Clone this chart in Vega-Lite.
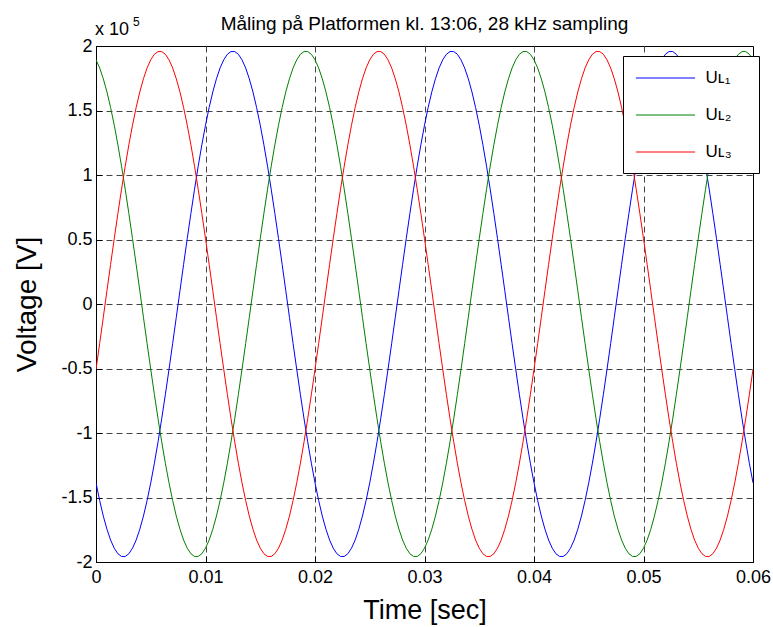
{
"$schema": "https://vega.github.io/schema/vega-lite/v6.json",
"width": 657, "height": 516,
"autosize": {"type": "none"},
"padding": {"left": 96, "top": 46, "right": 20, "bottom": 65},
"background": "white",
"config": {"font": "Liberation Sans", "view": {"stroke": "black", "strokeWidth": 1}},
"title": {"text": "Måling på Platformen kl. 13:06, 28 kHz sampling", "fontSize": 19, "fontWeight": "normal", "color": "black", "anchor": "middle", "frame": "group", "offset": -18},
"layer": [
{
"data": {"values": [
{"t":0,"L1":-1.386,"L2":1.893,"L3":-0.507},
{"t":0.000333,"L1":-1.523,"L2":1.830,"L3":-0.307},
{"t":0.000667,"L1":-1.644,"L2":1.746,"L3":-0.103},
{"t":0.001,"L1":-1.746,"L2":1.644,"L3":0.103},
{"t":0.001333,"L1":-1.830,"L2":1.523,"L3":0.307},
{"t":0.001667,"L1":-1.893,"L2":1.386,"L3":0.507},
{"t":0.002,"L1":-1.936,"L2":1.234,"L3":0.702},
{"t":0.002333,"L1":-1.957,"L2":1.068,"L3":0.890},
{"t":0.002667,"L1":-1.957,"L2":0.890,"L3":1.068},
{"t":0.003,"L1":-1.936,"L2":0.702,"L3":1.234},
{"t":0.003333,"L1":-1.893,"L2":0.507,"L3":1.386},
{"t":0.003667,"L1":-1.830,"L2":0.307,"L3":1.523},
{"t":0.004,"L1":-1.746,"L2":0.103,"L3":1.644},
{"t":0.004333,"L1":-1.644,"L2":-0.103,"L3":1.746},
{"t":0.004667,"L1":-1.523,"L2":-0.307,"L3":1.830},
{"t":0.005,"L1":-1.386,"L2":-0.507,"L3":1.893},
{"t":0.005333,"L1":-1.234,"L2":-0.702,"L3":1.936},
{"t":0.005667,"L1":-1.068,"L2":-0.890,"L3":1.957},
{"t":0.006,"L1":-0.890,"L2":-1.068,"L3":1.957},
{"t":0.006333,"L1":-0.702,"L2":-1.234,"L3":1.936},
{"t":0.006667,"L1":-0.507,"L2":-1.386,"L3":1.893},
{"t":0.007,"L1":-0.307,"L2":-1.523,"L3":1.830},
{"t":0.007333,"L1":-0.103,"L2":-1.644,"L3":1.746},
{"t":0.007667,"L1":0.103,"L2":-1.746,"L3":1.644},
{"t":0.008,"L1":0.307,"L2":-1.830,"L3":1.523},
{"t":0.008333,"L1":0.507,"L2":-1.893,"L3":1.386},
{"t":0.008667,"L1":0.702,"L2":-1.936,"L3":1.234},
{"t":0.009,"L1":0.890,"L2":-1.957,"L3":1.068},
{"t":0.009333,"L1":1.068,"L2":-1.957,"L3":0.890},
{"t":0.009667,"L1":1.234,"L2":-1.936,"L3":0.702},
{"t":0.01,"L1":1.386,"L2":-1.893,"L3":0.507},
{"t":0.010333,"L1":1.523,"L2":-1.830,"L3":0.307},
{"t":0.010667,"L1":1.644,"L2":-1.746,"L3":0.103},
{"t":0.011,"L1":1.746,"L2":-1.644,"L3":-0.103},
{"t":0.011333,"L1":1.830,"L2":-1.523,"L3":-0.307},
{"t":0.011667,"L1":1.893,"L2":-1.386,"L3":-0.507},
{"t":0.012,"L1":1.936,"L2":-1.234,"L3":-0.702},
{"t":0.012333,"L1":1.957,"L2":-1.068,"L3":-0.890},
{"t":0.012667,"L1":1.957,"L2":-0.890,"L3":-1.068},
{"t":0.013,"L1":1.936,"L2":-0.702,"L3":-1.234},
{"t":0.013333,"L1":1.893,"L2":-0.507,"L3":-1.386},
{"t":0.013667,"L1":1.830,"L2":-0.307,"L3":-1.523},
{"t":0.014,"L1":1.746,"L2":-0.103,"L3":-1.644},
{"t":0.014333,"L1":1.644,"L2":0.103,"L3":-1.746},
{"t":0.014667,"L1":1.523,"L2":0.307,"L3":-1.830},
{"t":0.015,"L1":1.386,"L2":0.507,"L3":-1.893},
{"t":0.015333,"L1":1.234,"L2":0.702,"L3":-1.936},
{"t":0.015667,"L1":1.068,"L2":0.890,"L3":-1.957},
{"t":0.016,"L1":0.890,"L2":1.068,"L3":-1.957},
{"t":0.016333,"L1":0.702,"L2":1.234,"L3":-1.936},
{"t":0.016667,"L1":0.507,"L2":1.386,"L3":-1.893},
{"t":0.017,"L1":0.307,"L2":1.523,"L3":-1.830},
{"t":0.017333,"L1":0.103,"L2":1.644,"L3":-1.746},
{"t":0.017667,"L1":-0.103,"L2":1.746,"L3":-1.644},
{"t":0.018,"L1":-0.307,"L2":1.830,"L3":-1.523},
{"t":0.018333,"L1":-0.507,"L2":1.893,"L3":-1.386},
{"t":0.018667,"L1":-0.702,"L2":1.936,"L3":-1.234},
{"t":0.019,"L1":-0.890,"L2":1.957,"L3":-1.068},
{"t":0.019333,"L1":-1.068,"L2":1.957,"L3":-0.890},
{"t":0.019667,"L1":-1.234,"L2":1.936,"L3":-0.702},
{"t":0.02,"L1":-1.386,"L2":1.893,"L3":-0.507},
{"t":0.020333,"L1":-1.523,"L2":1.830,"L3":-0.307},
{"t":0.020667,"L1":-1.644,"L2":1.746,"L3":-0.103},
{"t":0.021,"L1":-1.746,"L2":1.644,"L3":0.103},
{"t":0.021333,"L1":-1.830,"L2":1.523,"L3":0.307},
{"t":0.021667,"L1":-1.893,"L2":1.386,"L3":0.507},
{"t":0.022,"L1":-1.936,"L2":1.234,"L3":0.702},
{"t":0.022333,"L1":-1.957,"L2":1.068,"L3":0.890},
{"t":0.022667,"L1":-1.957,"L2":0.890,"L3":1.068},
{"t":0.023,"L1":-1.936,"L2":0.702,"L3":1.234},
{"t":0.023333,"L1":-1.893,"L2":0.507,"L3":1.386},
{"t":0.023667,"L1":-1.830,"L2":0.307,"L3":1.523},
{"t":0.024,"L1":-1.746,"L2":0.103,"L3":1.644},
{"t":0.024333,"L1":-1.644,"L2":-0.103,"L3":1.746},
{"t":0.024667,"L1":-1.523,"L2":-0.307,"L3":1.830},
{"t":0.025,"L1":-1.386,"L2":-0.507,"L3":1.893},
{"t":0.025333,"L1":-1.234,"L2":-0.702,"L3":1.936},
{"t":0.025667,"L1":-1.068,"L2":-0.890,"L3":1.957},
{"t":0.026,"L1":-0.890,"L2":-1.068,"L3":1.957},
{"t":0.026333,"L1":-0.702,"L2":-1.234,"L3":1.936},
{"t":0.026667,"L1":-0.507,"L2":-1.386,"L3":1.893},
{"t":0.027,"L1":-0.307,"L2":-1.523,"L3":1.830},
{"t":0.027333,"L1":-0.103,"L2":-1.644,"L3":1.746},
{"t":0.027667,"L1":0.103,"L2":-1.746,"L3":1.644},
{"t":0.028,"L1":0.307,"L2":-1.830,"L3":1.523},
{"t":0.028333,"L1":0.507,"L2":-1.893,"L3":1.386},
{"t":0.028667,"L1":0.702,"L2":-1.936,"L3":1.234},
{"t":0.029,"L1":0.890,"L2":-1.957,"L3":1.068},
{"t":0.029333,"L1":1.068,"L2":-1.957,"L3":0.890},
{"t":0.029667,"L1":1.234,"L2":-1.936,"L3":0.702},
{"t":0.03,"L1":1.386,"L2":-1.893,"L3":0.507},
{"t":0.030333,"L1":1.523,"L2":-1.830,"L3":0.307},
{"t":0.030667,"L1":1.644,"L2":-1.746,"L3":0.103},
{"t":0.031,"L1":1.746,"L2":-1.644,"L3":-0.103},
{"t":0.031333,"L1":1.830,"L2":-1.523,"L3":-0.307},
{"t":0.031667,"L1":1.893,"L2":-1.386,"L3":-0.507},
{"t":0.032,"L1":1.936,"L2":-1.234,"L3":-0.702},
{"t":0.032333,"L1":1.957,"L2":-1.068,"L3":-0.890},
{"t":0.032667,"L1":1.957,"L2":-0.890,"L3":-1.068},
{"t":0.033,"L1":1.936,"L2":-0.702,"L3":-1.234},
{"t":0.033333,"L1":1.893,"L2":-0.507,"L3":-1.386},
{"t":0.033667,"L1":1.830,"L2":-0.307,"L3":-1.523},
{"t":0.034,"L1":1.746,"L2":-0.103,"L3":-1.644},
{"t":0.034333,"L1":1.644,"L2":0.103,"L3":-1.746},
{"t":0.034667,"L1":1.523,"L2":0.307,"L3":-1.830},
{"t":0.035,"L1":1.386,"L2":0.507,"L3":-1.893},
{"t":0.035333,"L1":1.234,"L2":0.702,"L3":-1.936},
{"t":0.035667,"L1":1.068,"L2":0.890,"L3":-1.957},
{"t":0.036,"L1":0.890,"L2":1.068,"L3":-1.957},
{"t":0.036333,"L1":0.702,"L2":1.234,"L3":-1.936},
{"t":0.036667,"L1":0.507,"L2":1.386,"L3":-1.893},
{"t":0.037,"L1":0.307,"L2":1.523,"L3":-1.830},
{"t":0.037333,"L1":0.103,"L2":1.644,"L3":-1.746},
{"t":0.037667,"L1":-0.103,"L2":1.746,"L3":-1.644},
{"t":0.038,"L1":-0.307,"L2":1.830,"L3":-1.523},
{"t":0.038333,"L1":-0.507,"L2":1.893,"L3":-1.386},
{"t":0.038667,"L1":-0.702,"L2":1.936,"L3":-1.234},
{"t":0.039,"L1":-0.890,"L2":1.957,"L3":-1.068},
{"t":0.039333,"L1":-1.068,"L2":1.957,"L3":-0.890},
{"t":0.039667,"L1":-1.234,"L2":1.936,"L3":-0.702},
{"t":0.04,"L1":-1.386,"L2":1.893,"L3":-0.507},
{"t":0.040333,"L1":-1.523,"L2":1.830,"L3":-0.307},
{"t":0.040667,"L1":-1.644,"L2":1.746,"L3":-0.103},
{"t":0.041,"L1":-1.746,"L2":1.644,"L3":0.103},
{"t":0.041333,"L1":-1.830,"L2":1.523,"L3":0.307},
{"t":0.041667,"L1":-1.893,"L2":1.386,"L3":0.507},
{"t":0.042,"L1":-1.936,"L2":1.234,"L3":0.702},
{"t":0.042333,"L1":-1.957,"L2":1.068,"L3":0.890},
{"t":0.042667,"L1":-1.957,"L2":0.890,"L3":1.068},
{"t":0.043,"L1":-1.936,"L2":0.702,"L3":1.234},
{"t":0.043333,"L1":-1.893,"L2":0.507,"L3":1.386},
{"t":0.043667,"L1":-1.830,"L2":0.307,"L3":1.523},
{"t":0.044,"L1":-1.746,"L2":0.103,"L3":1.644},
{"t":0.044333,"L1":-1.644,"L2":-0.103,"L3":1.746},
{"t":0.044667,"L1":-1.523,"L2":-0.307,"L3":1.830},
{"t":0.045,"L1":-1.386,"L2":-0.507,"L3":1.893},
{"t":0.045333,"L1":-1.234,"L2":-0.702,"L3":1.936},
{"t":0.045667,"L1":-1.068,"L2":-0.890,"L3":1.957},
{"t":0.046,"L1":-0.890,"L2":-1.068,"L3":1.957},
{"t":0.046333,"L1":-0.702,"L2":-1.234,"L3":1.936},
{"t":0.046667,"L1":-0.507,"L2":-1.386,"L3":1.893},
{"t":0.047,"L1":-0.307,"L2":-1.523,"L3":1.830},
{"t":0.047333,"L1":-0.103,"L2":-1.644,"L3":1.746},
{"t":0.047667,"L1":0.103,"L2":-1.746,"L3":1.644},
{"t":0.048,"L1":0.307,"L2":-1.830,"L3":1.523},
{"t":0.048333,"L1":0.507,"L2":-1.893,"L3":1.386},
{"t":0.048667,"L1":0.702,"L2":-1.936,"L3":1.234},
{"t":0.049,"L1":0.890,"L2":-1.957,"L3":1.068},
{"t":0.049333,"L1":1.068,"L2":-1.957,"L3":0.890},
{"t":0.049667,"L1":1.234,"L2":-1.936,"L3":0.702},
{"t":0.05,"L1":1.386,"L2":-1.893,"L3":0.507},
{"t":0.050333,"L1":1.523,"L2":-1.830,"L3":0.307},
{"t":0.050667,"L1":1.644,"L2":-1.746,"L3":0.103},
{"t":0.051,"L1":1.746,"L2":-1.644,"L3":-0.103},
{"t":0.051333,"L1":1.830,"L2":-1.523,"L3":-0.307},
{"t":0.051667,"L1":1.893,"L2":-1.386,"L3":-0.507},
{"t":0.052,"L1":1.936,"L2":-1.234,"L3":-0.702},
{"t":0.052333,"L1":1.957,"L2":-1.068,"L3":-0.890},
{"t":0.052667,"L1":1.957,"L2":-0.890,"L3":-1.068},
{"t":0.053,"L1":1.936,"L2":-0.702,"L3":-1.234},
{"t":0.053333,"L1":1.893,"L2":-0.507,"L3":-1.386},
{"t":0.053667,"L1":1.830,"L2":-0.307,"L3":-1.523},
{"t":0.054,"L1":1.746,"L2":-0.103,"L3":-1.644},
{"t":0.054333,"L1":1.644,"L2":0.103,"L3":-1.746},
{"t":0.054667,"L1":1.523,"L2":0.307,"L3":-1.830},
{"t":0.055,"L1":1.386,"L2":0.507,"L3":-1.893},
{"t":0.055333,"L1":1.234,"L2":0.702,"L3":-1.936},
{"t":0.055667,"L1":1.068,"L2":0.890,"L3":-1.957},
{"t":0.056,"L1":0.890,"L2":1.068,"L3":-1.957},
{"t":0.056333,"L1":0.702,"L2":1.234,"L3":-1.936},
{"t":0.056667,"L1":0.507,"L2":1.386,"L3":-1.893},
{"t":0.057,"L1":0.307,"L2":1.523,"L3":-1.830},
{"t":0.057333,"L1":0.103,"L2":1.644,"L3":-1.746},
{"t":0.057667,"L1":-0.103,"L2":1.746,"L3":-1.644},
{"t":0.058,"L1":-0.307,"L2":1.830,"L3":-1.523},
{"t":0.058333,"L1":-0.507,"L2":1.893,"L3":-1.386},
{"t":0.058667,"L1":-0.702,"L2":1.936,"L3":-1.234},
{"t":0.059,"L1":-0.890,"L2":1.957,"L3":-1.068},
{"t":0.059333,"L1":-1.068,"L2":1.957,"L3":-0.890},
{"t":0.059667,"L1":-1.234,"L2":1.936,"L3":-0.702},
{"t":0.06,"L1":-1.386,"L2":1.893,"L3":-0.507}
]},
"transform": [{"fold": ["L1", "L2", "L3"], "as": ["phase", "v"]}],
"mark": {"type": "line", "strokeWidth": 1, "clip": true},
"encoding": {
"x": {"field": "t", "type": "quantitative",
  "scale": {"domain": [0, 0.06], "nice": false, "zero": false},
  "axis": {"title": "Time [sec]", "values": [0, 0.01, 0.02, 0.03, 0.04, 0.05, 0.06], "labelExpr": "toString(datum.value)",
    "grid": true, "gridDash": [6, 4], "gridColor": "#444", "gridWidth": 1,
    "gridOpacity": {"condition": {"test": "datum.value == 0 || datum.value >= 0.06", "value": 0}, "value": 1},
    "tickSize": -6, "tickColor": "black", "domainColor": "black",
    "labelFontSize": 18, "labelColor": "black", "labelPadding": 12, "labelFlush": false, "labelOverlap": false,
    "titleFontSize": 27, "titleFontWeight": "normal", "titleColor": "black", "titlePadding": 11}},
"y": {"field": "v", "type": "quantitative",
  "scale": {"domain": [-2, 2], "nice": false},
  "axis": {"title": "Voltage [V]", "values": [-2, -1.5, -1, -0.5, 0, 0.5, 1, 1.5, 2], "labelExpr": "toString(datum.value)",
    "grid": true, "gridDash": [6, 4], "gridColor": "#444", "gridWidth": 1,
    "gridOpacity": {"condition": {"test": "abs(datum.value) >= 2", "value": 0}, "value": 1},
    "tickSize": -6, "tickColor": "black", "domainColor": "black",
    "labelFontSize": 18, "labelColor": "black", "labelPadding": 10, "labelFlush": false, "labelOverlap": false,
    "titleFontSize": 28, "titleFontWeight": "normal", "titleColor": "black", "titlePadding": 19}},
"color": {"field": "phase", "type": "nominal",
  "scale": {"domain": ["L1", "L2", "L3"], "range": ["#0000ff", "#008000", "#ff0000"]},
  "legend": {"title": "\u00a0", "titleOrient": "bottom", "titleFontSize": 6, "titlePadding": 4,
    "orient": "none", "legendX": 527, "legendY": 10, "direction": "vertical",
    "padding": 3, "fillColor": "white", "strokeColor": "black", "cornerRadius": 0,
    "symbolType": "M-1.6,0H1.6", "symbolSize": 1369, "symbolStrokeWidth": 1, "symbolOffset": 20.5,
    "labelOffset": 21, "labelFontSize": 17, "labelColor": "black", "rowPadding": 10,
    "labelExpr": "(datum.label == 'L1' ? 'U\u029f\u2081' : datum.label == 'L2' ? 'U\u029f\u2082' : 'U\u029f\u2083') + '\u2800\u2800'"}}
}
},
{
"data": {"values": [{}]},
"mark": {"type": "text", "text": "x 10", "align": "left", "baseline": "alphabetic", "dx": -1, "dy": -11, "fontSize": 18, "color": "black"},
"encoding": {"x": {"datum": 0, "type": "quantitative"}, "y": {"datum": 2, "type": "quantitative"}}
},
{
"data": {"values": [{}]},
"mark": {"type": "text", "text": "5", "align": "left", "baseline": "alphabetic", "dx": 37, "dy": -20, "fontSize": 12, "color": "black"},
"encoding": {"x": {"datum": 0, "type": "quantitative"}, "y": {"datum": 2, "type": "quantitative"}}
}
]
}
